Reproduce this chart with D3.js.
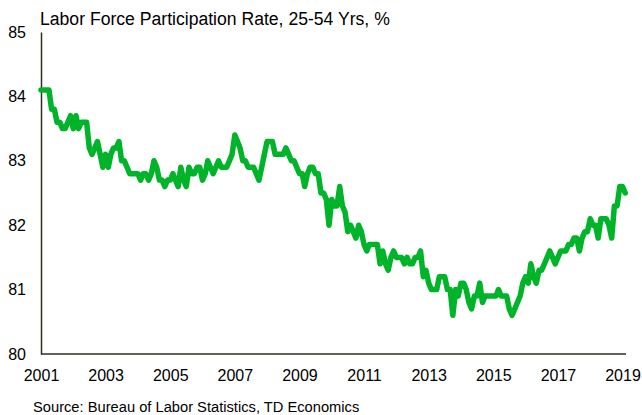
<!DOCTYPE html>
<html>
<head>
<meta charset="utf-8">
<script src="https://cdn.jsdelivr.net/npm/d3@7"></script>
<style>
  body { margin: 0; background: #fff; }
  text { font-family: "Liberation Sans", Arial, sans-serif; fill: #000; }
</style>
</head>
<body>
<div id="chart_div"></div>
<script>
// monthly rate, Jan 2001 .. Feb 2019
var rate = [
  84.1, 84.1, 84.1, 84.1, 83.8, 83.8, 83.6, 83.6, 83.5, 83.5, 83.6, 83.7,
  83.5, 83.7, 83.5, 83.6, 83.6, 83.6, 83.2, 83.1, 83.2, 83.3, 83.1, 82.9,
  83.1, 82.9, 83.1, 83.2, 83.2, 83.3, 83.0, 83.0, 82.9, 82.8, 82.8, 82.8,
  82.8, 82.7, 82.8, 82.8, 82.7, 82.8, 83.0, 82.9, 82.7, 82.7, 82.6, 82.7,
  82.7, 82.8, 82.7, 82.6, 82.9, 82.7, 82.6, 82.9, 82.8, 82.8, 82.9, 82.9,
  82.7, 82.8, 83.0, 82.9, 82.8, 82.9, 83.0, 82.9, 82.9, 82.9, 83.0, 83.1,
  83.4, 83.3, 83.2, 83.0, 83.0, 82.9, 82.9, 82.9, 82.8, 82.7, 82.9, 83.1,
  83.3, 83.3, 83.3, 83.1, 83.1, 83.1, 83.1, 83.2, 83.1, 83.0, 83.0, 82.9,
  82.8, 82.8, 82.6, 82.8, 82.9, 82.9, 82.8, 82.8, 82.5, 82.5, 82.4, 82.0,
  82.4, 82.3, 82.3, 82.6, 82.3, 82.2, 81.9, 82.0, 81.9, 81.8, 82.0, 81.9,
  81.7, 81.6, 81.7, 81.7, 81.7, 81.7, 81.4, 81.6, 81.4, 81.3, 81.5, 81.6,
  81.5, 81.5, 81.5, 81.4, 81.5, 81.4, 81.4, 81.5, 81.5, 81.6, 81.2, 81.3,
  81.1, 81.0, 81.0, 81.0, 81.2, 81.2, 81.2, 81.0, 81.0, 80.6, 81.0, 80.9,
  81.1, 81.1, 81.0, 80.8, 80.7, 80.9, 80.9, 81.1, 80.8, 80.9, 80.9, 80.9,
  80.9, 80.9, 81.0, 80.9, 80.9, 80.9, 80.7, 80.6, 80.7, 80.8, 80.9, 81.1,
  81.2, 81.1, 81.4, 81.2, 81.1, 81.3, 81.3, 81.4, 81.5, 81.6, 81.5, 81.4,
  81.5, 81.6, 81.6, 81.6, 81.7, 81.7, 81.8, 81.8, 81.6, 81.8, 81.9, 81.9,
  82.1, 82.0, 82.0, 81.8, 82.1, 82.1, 82.1, 82.0, 81.8, 82.3, 82.3, 82.6,
  82.6, 82.5
];
var start_year = 2001;
var x_ticks = [2001, 2003, 2005, 2007, 2009, 2011, 2013, 2015, 2017, 2019];
var y_ticks = [80, 81, 82, 83, 84, 85];
var title_text = 'Labor Force Participation Rate, 25-54 Yrs, %';
var source_text = 'Source: Bureau of Labor Statistics, TD Economics';

var chart_w = 642;
var chart_h = 415;
var plot_left = 41;
var plot_right = 622.5;
var plot_top = 32;
var plot_bottom = 354;
var line_color = '#00b42a';
var axis_color = '#2e2e22';

var points = rate.map(function (v, i) {
  return { date: new Date(start_year + Math.floor(i / 12), i % 12, 1), value: v };
});

var x = d3.scaleTime()
  .domain([new Date(x_ticks[0], 0, 1), new Date(x_ticks[x_ticks.length - 1], 0, 1)])
  .range([plot_left, plot_right]);

var y = d3.scaleLinear()
  .domain([y_ticks[0], y_ticks[y_ticks.length - 1]])
  .range([plot_bottom, plot_top]);

var svg = d3.select('#chart_div')
  .append('svg')
  .attr('width', chart_w)
  .attr('height', chart_h)
  .attr('display', 'block');

svg.append('text')
  .attr('x', 40)
  .attr('y', 25)
  .attr('font-size', 17.6)
  .text(title_text);

// y axis
var y_axis = d3.axisLeft(y)
  .tickValues(y_ticks)
  .tickSize(0)
  .tickPadding(15)
  .tickFormat(d3.format('d'));

svg.append('g')
  .attr('transform', 'translate(' + plot_left + ',0)')
  .call(y_axis)
  .call(function (g) {
    g.select('.domain').attr('stroke', axis_color).attr('stroke-width', 1.5);
    g.selectAll('text').attr('font-size', 16).attr('font-family', '"Liberation Sans", Arial, sans-serif');
  });

// x axis
var x_axis = d3.axisBottom(x)
  .tickValues(x_ticks.map(function (yr) { return new Date(yr, 0, 1); }))
  .tickSize(0)
  .tickPadding(16)
  .tickFormat(d3.timeFormat('%Y'));

svg.append('g')
  .attr('transform', 'translate(0,' + plot_bottom + ')')
  .call(x_axis)
  .call(function (g) {
    g.select('.domain')
      .attr('d', 'M' + plot_left + ',0H626')
      .attr('stroke', axis_color)
      .attr('stroke-width', 1.5);
    g.selectAll('text').attr('font-size', 16).attr('font-family', '"Liberation Sans", Arial, sans-serif');
  });

var line = d3.line()
  .x(function (d) { return x(d.date); })
  .y(function (d) { return y(d.value); });

svg.append('path')
  .datum(points)
  .attr('d', line)
  .attr('fill', 'none')
  .attr('stroke', line_color)
  .attr('stroke-width', 5.5)
  .attr('stroke-linejoin', 'round')
  .attr('stroke-linecap', 'round');

svg.append('text')
  .attr('x', 33)
  .attr('y', 411.5)
  .attr('font-size', 14.7)
  .text(source_text);
</script>
</body>
</html>
